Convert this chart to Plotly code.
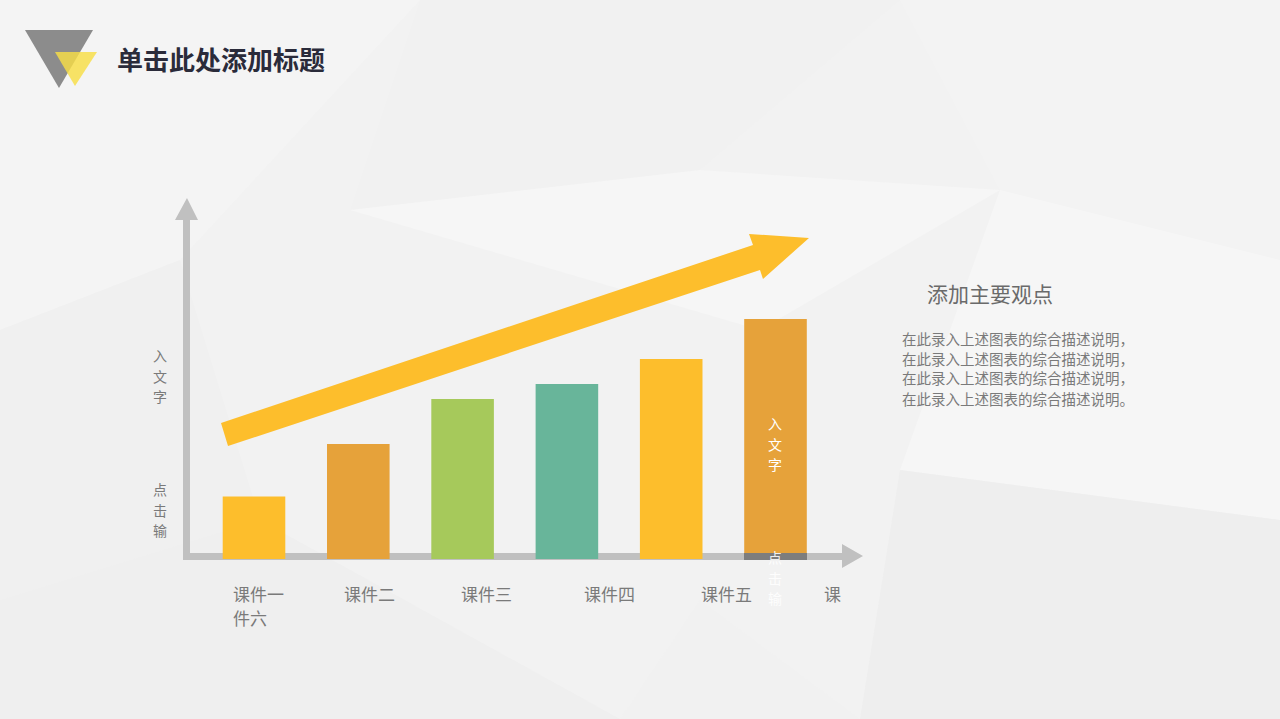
import plotly.graph_objects as go

W, H = 1280, 719

# ---- data ----
categories = ["课件一", "课件二", "课件三", "课件四", "课件五", "课件六"]
values = [1.25, 2.3, 3.2, 3.5, 4.0, 4.8]
bar_colors = ["#FDBE2C", "#E6A23A", "#A6C95B", "#68B59A", "#FDBE2C", "#E6A23A"]
title_text = "单击此处添加标题"
side_title = "添加主要观点"
side_lines = ["在此录入上述图表的综合描述说明，"] * 3 + ["在此录入上述图表的综合描述说明。"]
axis_label = "点击输入文字"

FONT = "Noto Sans CJK SC"


def px(x):
    return x / W


def py(y):
    return 1 - y / H


def path(pts):
    return "M " + " L ".join(f"{px(x):.5f},{py(y):.5f}" for x, y in pts) + " Z"


fig = go.Figure()
fig.add_trace(go.Bar(
    x=categories, y=values, marker=dict(color=bar_colors, line=dict(width=0)),
    width=0.6, hoverinfo="x+y", showlegend=False,
))

shapes = []
# subtle low-poly background
bg_polys = [
    ([(0, 0), (420, 0), (180, 260), (0, 330)], "#f4f4f4"),
    ([(420, 0), (900, 0), (700, 170), (350, 210)], "#f1f1f1"),
    ([(900, 0), (1280, 0), (1280, 260), (1000, 190)], "#f3f3f3"),
    ([(350, 210), (700, 170), (1000, 190), (760, 330)], "#f6f6f6"),
    ([(0, 330), (180, 260), (260, 520), (0, 600)], "#f0f0f0"),
    ([(1000, 190), (1280, 260), (1280, 520), (900, 470)], "#f6f6f6"),
    ([(0, 600), (260, 520), (620, 719), (0, 719)], "#efefef"),
    ([(900, 470), (1280, 520), (1280, 719), (860, 719)], "#eeeeee"),
    ([(620, 719), (700, 600), (860, 719)], "#f1f1f1"),
]
for pts, col in bg_polys:
    shapes.append(dict(type="path", xref="paper", yref="paper", path=path(pts),
                       fillcolor=col, line=dict(width=0), layer="below"))

# axes with arrowheads
axis_col = "#C0C0C0"
shapes.append(dict(type="path", xref="paper", yref="paper",
                   path=path([(183, 560), (183, 220), (175, 220), (187, 198), (198, 220), (190, 220), (190, 560)]),
                   fillcolor=axis_col, line=dict(width=0), layer="below"))
shapes.append(dict(type="path", xref="paper", yref="paper",
                   path=path([(183, 553), (842, 553), (842, 544), (863, 556), (842, 568), (842, 560), (183, 560)]),
                   fillcolor=axis_col, line=dict(width=0), layer="below"))
# darker overlap at last bar base
shapes.append(dict(type="rect", xref="paper", yref="paper",
                   x0=px(744), x1=px(807), y0=py(553), y1=py(560),
                   fillcolor="#7d7d7d", line=dict(width=0), layer="above"))

# big trend arrow
shapes.append(dict(type="path", xref="paper", yref="paper",
                   path=path([(221, 423), (753, 245), (749, 234), (809, 238), (763, 279), (760, 270), (228, 446)]),
                   fillcolor="#FDBE2C", line=dict(width=0), layer="above"))

# logo triangles
shapes.append(dict(type="path", xref="paper", yref="paper",
                   path=path([(25, 30), (93, 30), (59, 88)]),
                   fillcolor="#8C8C8C", line=dict(width=0), layer="above"))
shapes.append(dict(type="path", xref="paper", yref="paper",
                   path=path([(55, 52), (97, 52), (75, 86)]),
                   fillcolor="rgba(248,222,70,0.82)", line=dict(width=0), layer="above"))

annotations = []


def add_text(text, x, y, size, color, anchor="left"):
    annotations.append(dict(text=text, x=px(x), y=py(y), xref="paper", yref="paper",
                            xanchor=anchor, yanchor="middle", showarrow=False,
                            font=dict(family=FONT, size=size, color=color)))


# title
add_text(f"<b>{title_text}</b>", 115, 58, 26, "#2A2B3A")
# side title and paragraph
add_text(side_title, 925, 293, 21, "#6A6A6A")
for i, line in enumerate(side_lines):
    add_text(line, 900, 338 + 20 * i, 14.5, "#7A7A7A")

# x labels (wrapped as in the source text box)
label_x = [231, 342, 459, 582, 699]
for lx, lab in zip(label_x, categories[:5]):
    add_text(lab, lx, 593, 17, "#7A7A7A")
last = categories[5]
add_text(last[0], 822, 593, 17, "#7A7A7A")
add_text(last[1:], 231, 617, 17, "#7A7A7A")

# vertical axis label (wrapped), one character per row
first, second = axis_label[:3], axis_label[3:]
STEP = 20.5
for i, ch in enumerate(second):
    add_text(ch, 160, 355 + STEP * i, 14, "#7A7A7A", anchor="center")
for i, ch in enumerate(first):
    add_text(ch, 160, 489 + STEP * i, 14, "#7A7A7A", anchor="center")
# white text inside last bar
for i, ch in enumerate(second):
    add_text(ch, 775, 423 + STEP * i, 14, "#FFFFFF", anchor="center")
for i, ch in enumerate(first):
    add_text(ch, 775, 557 + STEP * i, 14, "rgba(255,255,255,0.9)", anchor="center")

fig.update_layout(
    width=W, height=H,
    margin=dict(l=0, r=0, t=0, b=0),
    paper_bgcolor="#F2F2F2", plot_bgcolor="rgba(0,0,0,0)",
    xaxis=dict(domain=[201.85 / W, 827.65 / W], range=[-0.5, 5.5], showticklabels=False,
               showgrid=False, zeroline=False, showline=False, ticks=""),
    yaxis=dict(domain=[(H - 559) / H, (H - 199) / H], range=[0, 7.2], showticklabels=False,
               showgrid=False, zeroline=False, showline=False, ticks=""),
    bargap=0.4,
    shapes=shapes,
    annotations=annotations,
    font=dict(family=FONT),
)

fig.write_html("out.html", config={"displayModeBar": False},
               post_script="document.body.style.margin='0';document.body.style.overflow='hidden';")
